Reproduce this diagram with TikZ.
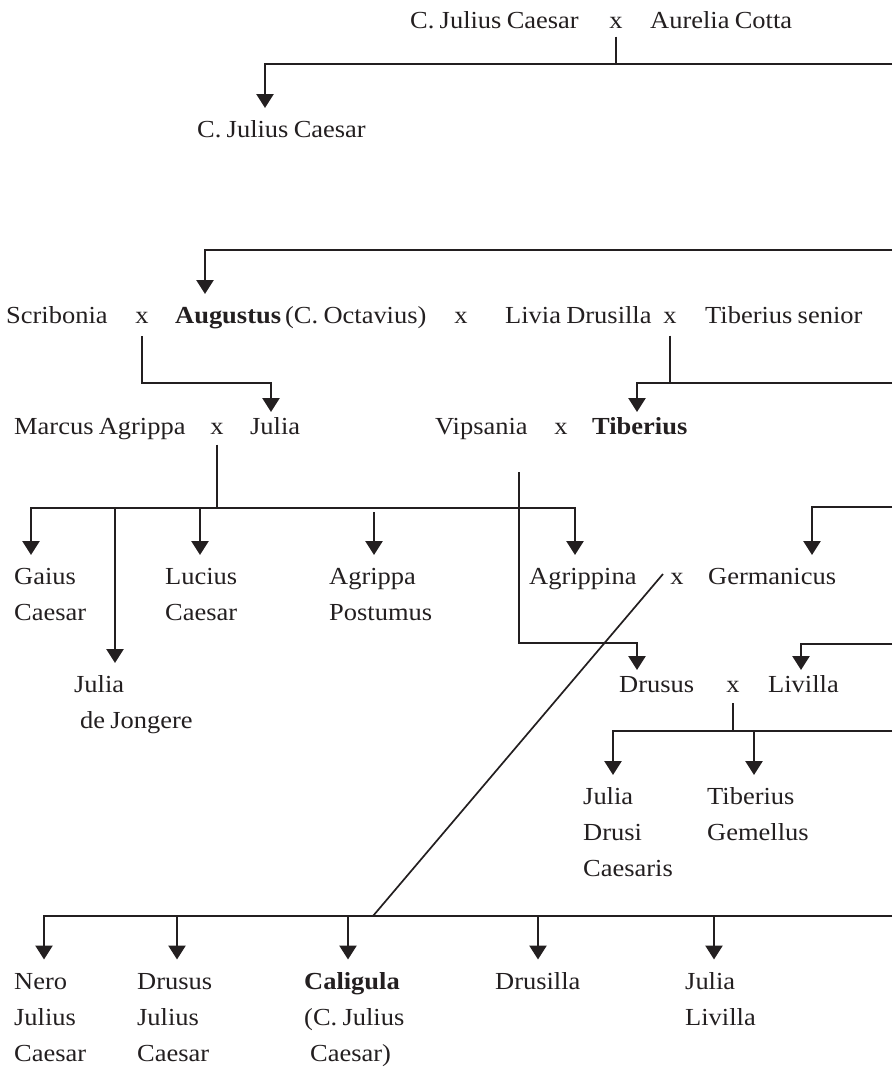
\documentclass[tikz,border=0pt]{standalone}
\usepackage{fontspec}
\setmainfont{Liberation Serif}[FakeStretch=1.08, WordSpace=0.8]
\usetikzlibrary{arrows.meta}
\definecolor{ink}{HTML}{231F20}
\newcommand{\namestack}[1]{\begin{tabular}[t]{@{}l@{}}#1\end{tabular}}

\begin{document}
\begin{tikzpicture}[x=1pt, y=-1pt, >={Triangle[width=17pt,length=14pt]},
	every node/.style={font=\fontsize{24.5}{36}\selectfont, text=ink, inner sep=0pt, text height=15.5pt},
	person/.style={anchor=base west, outer ysep=14pt},
	spouse/.style={anchor=base west, outer ysep=7pt},
	wed/.style={anchor=base},
	stem/.style={draw=ink, line width=2.6pt},
	diag/.style={draw=ink, line width=1.7pt}]
		\useasboundingbox (0,0) rectangle (892,1071);
		% generation 1
		\node[person] (caesar) at (410,28.5) {C. Julius Caesar};
		\node[wed] (w1) at (616,28.5) {x};
		\node[person] (aurelia) at (650,28.5) {Aurelia Cotta};
		\node[person] (caesar2) at (197,137.5) {C. Julius Caesar};
		% generation 2
		\node[person] (scribonia) at (6,323.5) {Scribonia};
		\node[wed] (w2) at (142,323.5) {x};
		\node[person] (augustus) at (175,323.5) {\textbf{Augustus}\,(C. Octavius)};
		\node[wed] (w3) at (461,323.5) {x};
		\node[person] (livia) at (505,323.5) {Livia Drusilla};
		\node[wed] (w4) at (670,323.5) {x};
		\node[person] (tibsen) at (705,323.5) {Tiberius senior};
		% generation 3
		\node[spouse] (agrippa) at (14,434.5) {Marcus Agrippa};
		\node[wed] (w5) at (217,434.5) {x};
		\node[spouse] (julia) at (250,434.5) {Julia};
		\node[spouse] (vipsania) at (435,434.5) {Vipsania};
		\node[wed] (w6) at (561,434.5) {x};
		\node[spouse] (tiberius) at (592,434.5) {\textbf{Tiberius}};
		% generation 4
		\node[person] (gaius) at (14,584.5) {\namestack{Gaius\\Caesar}};
		\node[person] (lucius) at (165,584.5) {\namestack{Lucius\\Caesar}};
		\node[person] (postumus) at (329,584.5) {\namestack{Agrippa\\Postumus}};
		\node[person] (agrippina) at (529,584.5) {Agrippina};
		\node[wed] (w7) at (677,584.5) {x};
		\node[person] (germanicus) at (708,584.5) {Germanicus};
		\node[person] (juliaj) at (74,692.5) {\namestack{Julia\\\hspace*{6pt}de Jongere}};
		\node[spouse] (drusus) at (619,692.5) {Drusus};
		\node[wed] (w8) at (733,692.5) {x};
		\node[spouse] (livilla) at (768,692.5) {Livilla};
		\node[person] (juliad) at (583,804.5) {\namestack{Julia\\Drusi\\Caesaris}};
		\node[person] (gemellus) at (707,804.5) {\namestack{Tiberius\\Gemellus}};
		% generation 5
		\node[person] (nero) at (14,989) {\namestack{Nero\\Julius\\Caesar}};
		\node[person] (drususj) at (137,989) {\namestack{Drusus\\Julius\\Caesar}};
		\node[person] (caligula) at (304,989) {\namestack{\textbf{Caligula}\\(C. Julius\\\hspace*{6pt}Caesar)}};
		\node[person] (drusilla) at (495,989) {Drusilla};
		\node[person] (julial) at (685,989) {\namestack{Julia\\Livilla}};
		% lines running in from the right
		\coordinate (r1) at (892,64);
		\coordinate (r2) at (892,250);
		\coordinate (r3) at (892,383);
		\coordinate (r4) at (892,507);
		\coordinate (r5) at (892,644);
		\coordinate (r6) at (892,731);
		\coordinate (r7) at (892,916);
		\coordinate (j7) at (373,916);
		\draw[stem, shorten <=8pt] (w1.base) -- (w1.base |- r1);
		\draw[stem, ->] (r1) -| ([xshift=68pt]caesar2.north west);
		\draw[stem, ->] (r2) -| ([xshift=30pt]augustus.north west);
		\draw[stem, ->, shorten <=12.5pt] (w2.base) -- ++(0,59.5) -| ([xshift=21pt]julia.north west);
		\draw[stem, shorten <=12pt] (w4.base) -- (w4.base |- r3);
		\draw[stem, ->] (r3) -| ([xshift=45pt]tiberius.north west);
		% children of Agrippa and Julia
		\draw[stem, shorten <=10pt] (w5.base) -- ++(0,73.5) coordinate (j5);
		\draw[stem, ->] (j5) -| ([xshift=17pt]gaius.north west);
		\draw[stem, ->] (j5) -| ([xshift=41pt]juliaj.north west);
		\draw[stem, ->] (j5) -| ([xshift=35pt]lucius.north west);
		\draw[stem, ->] ([xshift=45pt,yshift=43pt]postumus.north west) -- ([xshift=45pt]postumus.north west);
		\draw[stem, ->] (j5) -| ([xshift=46pt]agrippina.north west);
		\draw[stem, ->, shorten <=37.5pt] ([xshift=84pt]vipsania.base west) -- ++(0,208.5) -| ([xshift=18pt]drusus.north west);
		\draw[stem, ->] (r4) -| ([xshift=104pt]germanicus.north west);
		\draw[stem, ->] (r5) -| ([xshift=33pt]livilla.north west);
		% children of Drusus and Livilla
		\draw[stem, shorten <=10.5pt] (w8.base) -- ++(0,38.5) coordinate (j8);
		\draw[stem, ->] (r6) -| ([xshift=30pt]juliad.north west);
		\draw[stem, ->] (j8) -| ([xshift=47pt]gemellus.north west);
		% children of Agrippina and Germanicus
		\draw[diag] ([xshift=-14pt,yshift=10.5pt]w7.base) -- (j7);
		\draw[stem, ->] (r7) -| ([xshift=30pt]nero.north west);
		\draw[stem, ->] (j7) -| ([xshift=40pt]drususj.north west);
		\draw[stem, ->] (j7) -| ([xshift=44pt]caligula.north west);
		\draw[stem, ->] (j7) -| ([xshift=43pt]drusilla.north west);
		\draw[stem, ->] (j7) -| ([xshift=29pt]julial.north west);
	\end{tikzpicture}
\end{document}
